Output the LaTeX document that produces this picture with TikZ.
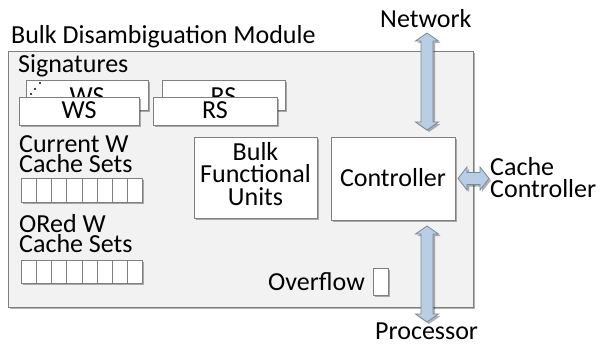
\documentclass[tikz,border=0pt]{standalone}
\usepackage{fontspec}
\setmainfont{Carlito}
\usetikzlibrary{shadows}
\definecolor{panel}{HTML}{F2F2F2}
\definecolor{edge}{HTML}{7F7F7F}
\definecolor{arrowfill}{HTML}{B9CDE5}
\definecolor{arrowedge}{HTML}{7A8898}
\tikzset{
  shade/.style={drop shadow={shadow xshift=2pt,shadow yshift=-2pt,fill=black,opacity=0.3}},
  panelbox/.style={draw=edge,fill=panel,line width=0.9pt,shade,inner sep=0pt},
  unitbox/.style={draw=edge,fill=white,line width=0.9pt,shade,inner sep=0pt},
  cell/.style={draw=edge,fill=white,line width=0.8pt,inner sep=0pt,minimum width=15.125pt,minimum height=24pt},
  lbl/.style={inner sep=0pt,anchor=base west,font=\fontsize{26}{22}\selectfont},
  ctr/.style={inner sep=0pt,font=\fontsize{26}{22}\selectfont,align=center},
  fatarrow/.style={draw=arrowedge,fill=arrowfill,line width=0.8pt,line join=miter,shade},
}
% vertical double-headed block arrow: #1 = x, #2 = top y, #3 = bottom y
\newcommand\blockarrowv[3]{%
  \path[fatarrow] (#1,#2) -- ++(11.5,8) -- ++(-5.5,0) -- (#1+6,#3-8) -- ++(5.5,0)
    -- (#1,#3) -- ++(-11.5,-8) -- ++(5.5,0) -- (#1-6,#2+8) -- ++(-5.5,0) -- cycle;}
% horizontal double-headed block arrow: #1 = y, #2 = left x, #3 = right x
\newcommand\blockarrowh[3]{%
  \path[fatarrow] (#2,#1) -- ++(9,-11.5) -- ++(0,5.5) -- (#3-9,#1-6) -- ++(0,-5.5)
    -- (#3,#1) -- ++(-9,11.5) -- ++(0,-5.5) -- (#2+9,#1+6) -- ++(0,5.5) -- cycle;}
\begin{document}
\begin{tikzpicture}[x=1pt,y=-1pt]
\useasboundingbox (0,0) rectangle (602,343);

% module frame
\node[panelbox,minimum width=465pt,minimum height=256pt] (module) at (240.5,179) {};
\node[lbl] (title) at (11,43) {Bulk Disambiguation Module};

% signatures
\node[lbl] (sig) at (18,72) {Signatures};
\node[unitbox,minimum width=122pt,minimum height=30pt] (wsback) at (87,95) {};
\node[unitbox,minimum width=123pt,minimum height=30pt] (rsback) at (223.5,95) {};
\node[ctr,anchor=base] (wsbacktext) at (87,104) {WS};
\node[ctr,anchor=base] (rsbacktext) at (223.5,104) {RS};
\foreach \px/\py in {31/94,35/89,40/83}
  \fill[black] (\px,\py) circle (1.1pt);
\node[unitbox,minimum width=120pt,minimum height=28pt] (ws) at (79,111) {};
\node[unitbox,minimum width=124pt,minimum height=28pt] (rs) at (215,111) {};
\node[ctr,anchor=base] (wstext) at (79,118) {WS};
\node[ctr,anchor=base] (rstext) at (215,118) {RS};

% cache-set bit vectors
\node[lbl] (curw) at (19,152) {Current W};
\node[lbl] (curcs) at (19,172) {Cache Sets};
\node[lbl] (orw) at (19,232) {ORed W};
\node[lbl] (orcs) at (19,252) {Cache Sets};
\fill[black,opacity=0.3] (23,180) rectangle (144,204);
\fill[black,opacity=0.3] (23,262) rectangle (144,285);
\foreach \i in {0,...,7}{
  \node[cell,anchor=north west] (cur\i) at ({21+15.125*\i},178) {};
  \node[cell,anchor=north west,minimum height=23pt] (ord\i) at ({21+15.125*\i},260) {};
}

% functional blocks
\node[unitbox,minimum width=123pt,minimum height=81pt] (bfu) at (255.5,177.5) {};
\node[ctr,anchor=base] (bfu1) at (255.5,160) {Bulk};
\node[ctr,anchor=base] (bfu2) at (255.5,182.5) {Functional};
\node[ctr,anchor=base] (bfu3) at (255.5,205) {Units};
\node[unitbox,minimum width=124pt,minimum height=83pt] (ctrl) at (393,178.5) {};
\node[ctr,anchor=base] (ctrltext) at (393,186) {Controller};

% overflow flag
\node[lbl] (ovf) at (268,290) {Overflow};
\node[unitbox,minimum width=15pt,minimum height=27pt] (ovfbox) at (380.5,281.5) {};

% external interfaces
\node[lbl] (net) at (380,27) {Network};
\node[lbl] (proc) at (375,339) {Processor};
\node[lbl] (cc1) at (490,175) {Cache};
\node[lbl] (cc2) at (490,197) {Controller};
\blockarrowv{427}{33}{130}
\blockarrowv{427}{226}{322}
\blockarrowh{178.5}{458}{489}
\end{tikzpicture}
\end{document}
